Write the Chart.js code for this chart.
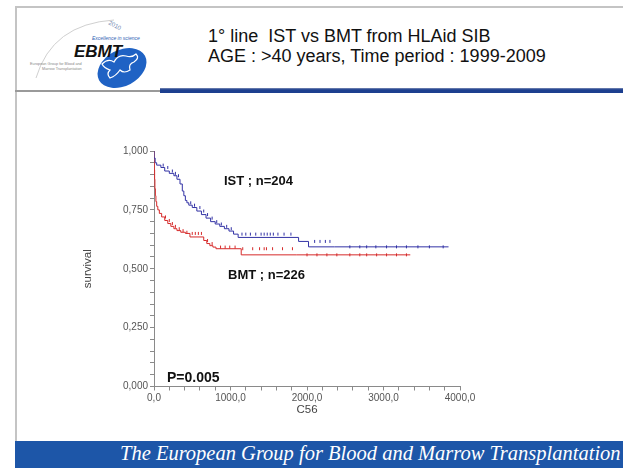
<!DOCTYPE html>
<html lang="en">
<head>
<meta charset="UTF-8">
<title>1° line IST vs BMT from HLAid SIB</title>
<script src="https://cdn.jsdelivr.net/npm/chart.js"></script>
<style>
  * { margin: 0; padding: 0; box-sizing: border-box; }
  html, body { width: 623px; height: 468px; overflow: hidden; background: #fff; }
  body { position: relative; font-family: "Liberation Sans", Arial, sans-serif; }
  .frame-left { position: absolute; left: 15px; top: 6px; width: 2px; height: 436px; background: #c4c4c4; }
  .frame-top { position: absolute; left: 15px; top: 6px; width: 608px; height: 2px; background: #c4c4c4; }
  .sep-gray { position: absolute; left: 15px; top: 90px; width: 150px; height: 2px; background: #9a9a9a; }
  .sep-blue { position: absolute; left: 160px; top: 88px; width: 463px; height: 5px;
    background: linear-gradient(#7d8db5 0%, #1c3f8f 35%, #1c3f8f 100%); }
  .title { position: absolute; left: 208px; top: 26px; font-size: 18px; line-height: 20px; color: #111; }
  .logo { position: absolute; left: 22px; top: 12px; }
  .footer { position: absolute; left: 15px; top: 441px; width: 608px; height: 27px; background: #1d56a8; overflow: hidden; }
  .footer span { position: absolute; left: 105px; top: 1px; white-space: nowrap;
    font-family: "Liberation Serif", "DejaVu Serif", serif; font-style: italic; font-size: 20.5px; color: #fff; }
  .note { position: absolute; font-weight: bold; color: #111; white-space: nowrap; }
  #chartWrap { position: absolute; left: 0; top: 0; width: 623px; height: 468px; }
</style>
</head>
<body>
  <div class="frame-top"></div>
  <div class="frame-left"></div>

  <svg class="logo" width="140" height="80" viewBox="0 0 140 80">
    <path d="M14 66 Q 30 12 92 8" fill="none" stroke="#d0d0d0" stroke-width="1"/>
    <text x="86" y="12" font-size="6" fill="#6f86b0" transform="rotate(28 86 12)" font-family="Liberation Sans">2010</text>
    <text x="70" y="28" font-size="5" fill="#2f63b4" font-style="italic" font-family="Liberation Sans">Excellence in science</text>
    <ellipse cx="100" cy="56" rx="26" ry="18" transform="rotate(-28 100 56)" fill="#1f62c4"/>
    <path d="M80 52 q6 -6 12 -2 q4 -8 12 -6 q6 2 10 -2 q4 4 -2 8 q-6 2 -4 8 q-6 4 -10 0 q-4 6 -10 8 q-4 -4 0 -8 q-6 -2 -8 -6z"
          fill="none" stroke="#ffffff" stroke-width="1.2"/>
    <text x="52" y="45" font-size="17" font-weight="bold" font-style="italic" fill="#111" font-family="Liberation Sans">EBMT</text>
    <text x="8" y="53" font-size="3.8" fill="#888" font-family="Liberation Sans">European Group for Blood and</text>
    <text x="20" y="58" font-size="3.8" fill="#888" font-family="Liberation Sans">Marrow Transplantation</text>
  </svg>

  <div class="title">1° line&nbsp; IST vs BMT from HLAid SIB<br>AGE : &gt;40 years, Time period : 1999-2009</div>
  <div class="sep-gray"></div>
  <div class="sep-blue"></div>

  <div id="chartWrap"><canvas id="kmChart"></canvas></div>

  <div class="note" style="left:224px; top:173px; font-size:13px;">IST ; n=204</div>
  <div class="note" style="left:228px; top:267px; font-size:13px;">BMT ; n=226</div>
  <div class="note" style="left:167px; top:369px; font-size:14px;">P=0.005</div>

  <div class="footer"><span>The European Group for Blood and Marrow Transplantation</span></div>

<script>
// Kaplan-Meier steps (time in days, survival fraction)
const istTimes = [0, 15, 35, 90, 140, 200, 260, 300, 340, 370, 390, 410, 430, 455, 500, 560, 620, 680, 740, 800, 860, 920, 980, 1040, 1100, 1890, 2020, 2360, 3850];
const istSurv  = [1.0, 0.97, 0.95, 0.94, 0.93, 0.915, 0.905, 0.895, 0.88, 0.86, 0.83, 0.81, 0.79, 0.78, 0.77, 0.76, 0.745, 0.73, 0.715, 0.70, 0.69, 0.68, 0.67, 0.66, 0.647, 0.633, 0.616, 0.593, 0.593];
const istCensored = [120, 180, 240, 280, 320, 480, 530, 600, 650, 700, 760, 820, 880, 950, 1010, 1150, 1200, 1260, 1330, 1400, 1440, 1480, 1520, 1560, 1620, 1700, 1790, 2100, 2170, 2240, 2300, 2560, 2690, 2780, 2900, 3040, 3170, 3300, 3450, 3600, 3780];

const bmtTimes = [0, 4, 8, 12, 18, 25, 35, 50, 70, 100, 140, 180, 220, 260, 300, 350, 410, 470, 650, 690, 730, 770, 810, 1140, 1860, 3350];
const bmtSurv  = [1.0, 0.96, 0.92, 0.88, 0.84, 0.81, 0.785, 0.765, 0.75, 0.735, 0.72, 0.705, 0.692, 0.68, 0.67, 0.662, 0.655, 0.65, 0.635, 0.62, 0.607, 0.598, 0.592, 0.585, 0.559, 0.559];
const bmtCensored = [150, 200, 240, 280, 330, 380, 430, 500, 540, 580, 620, 700, 760, 870, 930, 990, 1060, 1160, 1290, 1380, 1440, 1470, 1550, 1680, 1810, 2000, 2130, 2260, 2390, 2560, 2690, 2780, 2910, 3040, 3170, 3300];

const yTicks = [0, 0.25, 0.5, 0.75, 1.0];
const xTicks = [0, 1000, 2000, 3000, 4000];

const IST_COLOR = 'rgb(50, 50, 165)';
const BMT_COLOR = 'rgb(214, 42, 42)';

function steps(times, surv) {
  return times.map((t, i) => ({ x: t, y: surv[i] }));
}
// survival level at a censoring time (last step at or before it)
function marks(times, surv, cens) {
  return cens.map(t => {
    let s = surv[0];
    for (let i = 0; i < times.length; i++) if (times[i] <= t) s = surv[i];
    return { x: t, y: s };
  });
}

const ctx = document.getElementById('kmChart').getContext('2d');
new Chart(ctx, {
  type: 'line',
  data: {
    datasets: [
      { label: 'IST', data: steps(istTimes, istSurv), stepped: 'after', borderColor: IST_COLOR, borderWidth: 1, pointRadius: 0, fill: false },
      { label: 'BMT', data: steps(bmtTimes, bmtSurv), stepped: 'after', borderColor: BMT_COLOR, borderWidth: 1, pointRadius: 0, fill: false },
      { label: 'IST censored', data: marks(istTimes, istSurv, istCensored), showLine: false, pointStyle: 'line', rotation: 90, pointRadius: 1.5, borderColor: IST_COLOR, borderWidth: 1 },
      { label: 'BMT censored', data: marks(bmtTimes, bmtSurv, bmtCensored), showLine: false, pointStyle: 'line', rotation: 90, pointRadius: 1.5, borderColor: BMT_COLOR, borderWidth: 1 }
    ]
  },
  options: {
    responsive: true,
    maintainAspectRatio: false,
    animation: false,
    layout: { padding: { left: 77, right: 163, top: 151, bottom: 47 } },
    plugins: { legend: { display: false }, tooltip: { enabled: false } },
    scales: {
      x: {
        type: 'linear',
        min: 0, max: 4000,
        afterFit: s => { s.height = 34.5; },
        border: { display: true, color: '#8a8a8a', width: 1 },
        grid: { drawOnChartArea: false, drawTicks: true, tickLength: 4, tickColor: '#8a8a8a' },
        ticks: {
          stepSize: 200, autoSkip: false, maxRotation: 0, padding: 2,
          color: '#555', font: { family: 'Liberation Sans', size: 10 },
          callback: v => (xTicks.some(t => Math.abs(t - v) < 1e-6) ? v.toFixed(1).replace('.', ',') : '')
        },
        title: { display: true, text: 'C56', color: '#444', font: { family: 'Liberation Sans', size: 11.5 } }
      },
      y: {
        min: 0, max: 1,
        afterFit: s => { s.width = 77; },
        border: { display: true, color: '#8a8a8a', width: 1 },
        grid: { drawOnChartArea: false, drawTicks: true, tickLength: 4, tickColor: '#8a8a8a' },
        ticks: {
          stepSize: 0.05, autoSkip: false, padding: 2,
          color: '#555', font: { family: 'Liberation Sans', size: 10 },
          callback: v => (yTicks.some(t => Math.abs(t - v) < 1e-6) ? v.toFixed(3).replace('.', ',') : '')
        },
        title: { display: true, text: 'survival', color: '#444', font: { family: 'Liberation Sans', size: 11.5 } }
      }
    }
  }
});
</script>
</body>
</html>
